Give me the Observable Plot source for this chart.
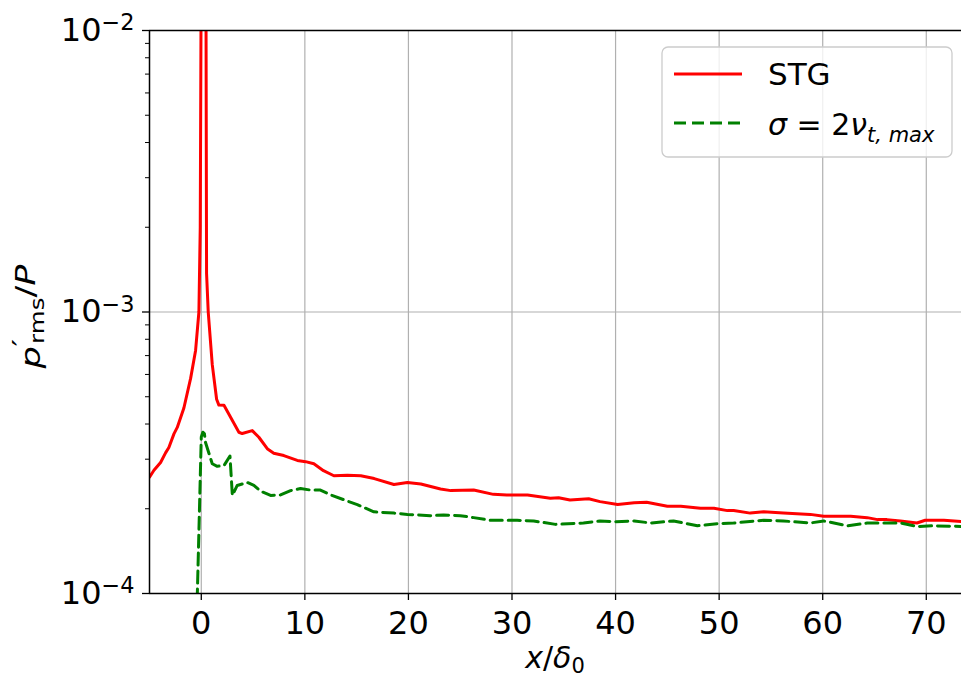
<!DOCTYPE html>
<html>
<head>
<meta charset="utf-8">
<script src="https://cdn.jsdelivr.net/npm/d3@7"></script>
<script src="https://cdn.jsdelivr.net/npm/@observablehq/plot@0.6"></script>
<style>
  html, body { margin: 0; padding: 0; background: white; }
  #chart svg { display: block; }
</style>
</head>
<body>
<div id="chart"></div>
<script>
// ---- data ----
const stgX = [-5, -4.57, -3.93, -3.45, -3.13, -2.64, -2.32, -1.68, -1.03, -0.55, -0.23, -0.1, -0.03, 0.1, 0.35, 0.46, 0.51, 0.67,
  1.06, 1.48, 1.7, 2.19, 2.83, 3.63, 3.95, 4.92, 5.56, 6.37, 7.0, 7.97, 9.27, 10.07, 10.87, 11.8, 12.8, 14.1, 15.4, 16.7,
  18.6, 19.9, 21.2, 23.1, 24.1, 26.3, 28.2, 29.5, 31.5, 33.7, 34.5, 35.6, 37.4, 38.5, 40.2, 41.8, 43.0, 45.0, 46.3, 48.2,
  49.5, 50.8, 51.4, 53.0, 54.3, 56.2, 58.8, 60.1, 62.7, 64.3, 65.3, 66.2, 67.5, 69.1, 69.9, 71.7, 73.4];
const stgY = [2.59e-4, 2.74e-4, 2.92e-4, 3.16e-4, 3.30e-4, 3.69e-4, 3.89e-4, 4.56e-4, 5.81e-4, 7.3e-4, 1.0e-3, 2.0e-3, 1.0e-2, 2.5e-2, 2.5e-2, 1.0e-2, 1.37e-3, 1.0e-3,
  6.5e-4, 4.9e-4, 4.67e-4, 4.66e-4, 4.23e-4, 3.74e-4, 3.70e-4, 3.79e-4, 3.59e-4, 3.27e-4, 3.15e-4, 3.09e-4, 2.97e-4, 2.94e-4, 2.89e-4, 2.73e-4, 2.62e-4, 2.63e-4, 2.62e-4, 2.56e-4,
  2.44e-4, 2.48e-4, 2.45e-4, 2.35e-4, 2.32e-4, 2.33e-4, 2.25e-4, 2.24e-4, 2.24e-4, 2.18e-4, 2.19e-4, 2.15e-4, 2.17e-4, 2.12e-4, 2.07e-4, 2.10e-4, 2.11e-4, 2.04e-4, 2.04e-4, 2.01e-4,
  2.01e-4, 1.97e-4, 1.97e-4, 1.93e-4, 1.95e-4, 1.93e-4, 1.91e-4, 1.88e-4, 1.88e-4, 1.86e-4, 1.83e-4, 1.83e-4, 1.81e-4, 1.78e-4, 1.82e-4, 1.82e-4, 1.80e-4];

const sigX = [-0.45, -0.38, 0.0, 0.15, 0.3, 0.41, 1.06, 1.54, 2.2, 2.77, 3.0, 3.47, 4.44, 5.08, 5.72, 6.69, 7.65, 8.62, 9.58,
  10.55, 11.5, 12.5, 14.1, 15.06, 16.66, 18.6, 19.9, 22.1, 23.4, 25.0, 26.3, 27.9, 30.5, 32.1, 34.2, 36.9, 38.5, 40.0,
  41.8, 43.4, 45.6, 47.9, 49.8, 51.4, 54.3, 56.2, 58.8, 60.1, 62.4, 64.3, 67.5, 69.1, 70.7, 73.4];
const sigY = [7e-5, 1.0e-4, 3.6e-4, 3.74e-4, 3.7e-4, 3.44e-4, 2.89e-4, 2.83e-4, 2.85e-4, 3.08e-4, 2.23e-4, 2.42e-4, 2.48e-4, 2.42e-4, 2.31e-4, 2.23e-4, 2.24e-4, 2.32e-4, 2.36e-4,
  2.33e-4, 2.33e-4, 2.24e-4, 2.13e-4, 2.07e-4, 1.95e-4, 1.93e-4, 1.91e-4, 1.89e-4, 1.90e-4, 1.89e-4, 1.86e-4, 1.82e-4, 1.82e-4, 1.81e-4, 1.76e-4, 1.78e-4, 1.81e-4, 1.80e-4,
  1.81e-4, 1.78e-4, 1.81e-4, 1.74e-4, 1.77e-4, 1.78e-4, 1.82e-4, 1.81e-4, 1.78e-4, 1.81e-4, 1.74e-4, 1.78e-4, 1.78e-4, 1.73e-4, 1.74e-4, 1.73e-4];

const xTicks = [0, 10, 20, 30, 40, 50, 60, 70];
const yTicks = [1e-4, 1e-3, 1e-2];
const yMinor = [2e-4, 3e-4, 4e-4, 5e-4, 6e-4, 7e-4, 8e-4, 9e-4, 2e-3, 3e-3, 4e-3, 5e-3, 6e-3, 7e-3, 8e-3, 9e-3];
const xDomain = [-5, 73.4];
const yDomain = [1e-4, 1e-2];
const seriesNames = ["STG", "sigma"];

(function () {
const stg = stgX.map((x, i) => ({x, y: stgY[i]}));
const sig = sigX.map((x, i) => ({x, y: sigY[i]}));

const FONT = "DejaVu Sans";
const FS = 32;
const DASH = "12,6";
const LW = 3;

const plot = Plot.plot({
  width: 961,
  height: 682,
  marginLeft: 149,
  marginRight: 0,
  marginTop: 30,
  marginBottom: 89,
  style: {fontFamily: FONT, fontSize: FS + "px", color: "black", background: "white"},
  x: {domain: xDomain},
  y: {type: "log", domain: yDomain},
  marks: [
    Plot.gridX(xTicks, {stroke: "#b0b0b0", strokeOpacity: 1, strokeWidth: 1.2}),
    Plot.gridY(yTicks, {stroke: "#b0b0b0", strokeOpacity: 1, strokeWidth: 1.2}),
    Plot.line(stg, {x: "x", y: "y", stroke: "#ff0000", strokeWidth: LW, clip: true}),
    Plot.line(sig, {x: "x", y: "y", stroke: "#008000", strokeWidth: LW, strokeDasharray: DASH, clip: true}),
    Plot.ruleX([xDomain[0]], {stroke: "black", strokeWidth: 1.5}),
    Plot.ruleY(yDomain, {stroke: "black", strokeWidth: 1.5}),
    Plot.axisX(xTicks, {tickSize: 7, tickPadding: 11, fontSize: FS, label: null, stroke: "black", strokeWidth: 1.3}),
    Plot.axisY(yTicks, {tickSize: 7, tickPadding: 8, fontSize: FS, label: null, stroke: "black", strokeWidth: 1.3,
      tickFormat: d => "E" + Math.round(Math.log10(d))}),
    Plot.axisY(yMinor, {tickSize: 4, fontSize: FS, label: null, stroke: "black", strokeWidth: 1.0, tickFormat: () => ""})
  ]
});

document.getElementById("chart").appendChild(plot);

const svg = d3.select(plot);

// y tick labels: 10 with superscript exponent
svg.selectAll("text").each(function() {
  const t = d3.select(this);
  const s = t.text();
  if (/^E-?\d+$/.test(s)) {
    const e = s.slice(1).replace("-", "\u2212");
    t.text(null);
    t.append("tspan").text("10");
    t.append("tspan").attr("dy", "-0.48em").attr("font-size", "0.7em").text(e);
  }
});

const xs = plot.scale("x");
const ys = plot.scale("y");
const pLeft = xs.range[0], pRight = xs.range[1];
const pTop = ys.range[1], pBottom = ys.range[0];

// x axis label: x/δ0
const xl = svg.append("text")
  .attr("x", (pLeft + pRight) / 2)
  .attr("y", 668)
  .attr("text-anchor", "middle")
  .attr("font-family", FONT)
  .attr("font-size", 30)
  .attr("fill", "black");
xl.append("tspan").attr("font-style", "italic").text("x");
xl.append("tspan").text("/");
xl.append("tspan").attr("font-style", "italic").text("\u03B4");
xl.append("tspan").attr("font-size", "0.7em").attr("dy", "0.22em").text("0");

// y axis label: p'_rms / P
const yl = svg.append("text")
  .attr("transform", `translate(40,${(pTop + pBottom) / 2 + 5}) rotate(-90) scale(1.3,1)`)
  .attr("text-anchor", "middle")
  .attr("font-family", FONT)
  .attr("font-size", 27)
  .attr("fill", "black");
yl.append("tspan").attr("font-style", "italic").text("p");
yl.append("tspan").attr("dy", "-0.4em").attr("font-size", "0.9em").text("\u2032");
yl.append("tspan").attr("dx", "-0.2em").attr("dy", "0.7em").attr("font-size", "0.7em").text("rms");
yl.append("tspan").attr("dy", "-0.3em").text("/");
yl.append("tspan").attr("font-style", "italic").text("P");

// legend
const lg = svg.append("g");
lg.append("rect")
  .attr("x", 662).attr("y", 47).attr("width", 290).attr("height", 110)
  .attr("rx", 6).attr("fill", "white").attr("fill-opacity", 0.8)
  .attr("stroke", "#cccccc").attr("stroke-width", 1.3);
const items = [
  {name: seriesNames[0], color: "#ff0000", dash: null, y: 74},
  {name: seriesNames[1], color: "#008000", dash: DASH, y: 123}
];
items.forEach((it, i) => {
  const ln = lg.append("line").attr("x1", 674).attr("x2", 742).attr("y1", it.y).attr("y2", it.y)
    .attr("stroke", it.color).attr("stroke-width", LW);
  if (it.dash) ln.attr("stroke-dasharray", it.dash);
  const tx = lg.append("text").attr("x", 768).attr("y", i === 0 ? 85 : 135)
    .attr("text-anchor", "start")
    .attr("font-family", FONT).attr("font-size", i === 0 ? 31 : 30).attr("fill", "black");
  if (i === 0) {
    tx.text("STG");
  } else {
    tx.append("tspan").attr("font-style", "italic").text("\u03C3");
    tx.append("tspan").text(" = 2");
    tx.append("tspan").attr("font-style", "italic").text("\u03BD");
    tx.append("tspan").attr("font-style", "italic").attr("font-size", "0.7em").attr("dy", "0.33em").text("t, max");
  }
});
})();
</script>
</body>
</html>
